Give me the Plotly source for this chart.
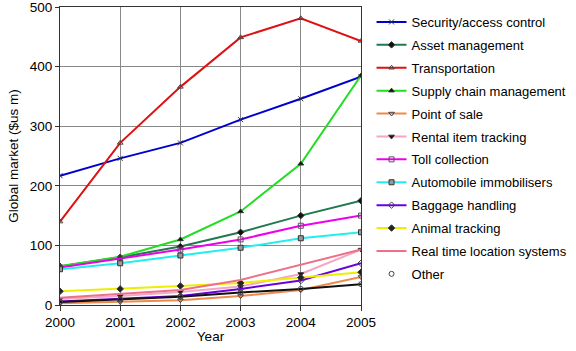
import plotly.graph_objects as go

years = [2000, 2001, 2002, 2003, 2004, 2005]

series_names = [
    "Security/access control", "Asset management", "Transportation",
    "Supply chain management", "Point of sale", "Rental item tracking",
    "Toll collection", "Automobile immobilisers", "Baggage handling",
    "Animal tracking", "Real time location systems", "Other",
]

security = [217, 246, 272, 311, 346, 383]
asset = [65, 80, 98, 122, 150, 175]
transportation = [140, 272, 366, 449, 481, 443]
supply_chain = [65, 81, 110, 157, 237, 385]
point_of_sale = [3, 5, 8, 15, 25, 47]
rental = [10, 15, 22, 31, 52, 93]
toll = [63, 78, 93, 110, 133, 150]
immobilisers = [60, 70, 83, 96, 112, 122]
baggage = [6, 10, 15, 27, 41, 70]
animal = [23, 27, 32, 37, 46, 55]
rtls = [12, 18, 25, 42, 67, 93]
other = [5, 9, 14, 21, 27, 35]

values = [security, asset, transportation, supply_chain, point_of_sale, rental,
          toll, immobilisers, baggage, animal, rtls, other]

line_colors = ["#0000cc", "#1f7a4f", "#dd1111", "#22dd22", "#f08a4b", "#f4a6c4",
               "#ee00ee", "#22eeee", "#6a00e0", "#eeee00", "#ee7088", "#111111"]
symbols = ["x-thin-open", "diamond", "triangle-up-open", "triangle-up",
           "triangle-down-open", "triangle-down", "square-open", "square",
           "diamond-open", "diamond", None, "circle-open"]
marker_fill = ["#333333", "#111111", "#444444", "#111111", "#444444", "#111111",
               "#555555", "#999999", "#444444", "#222222", "#444444", "#444444"]

fig = go.Figure()
for i, (name, vals) in enumerate(zip(series_names, values)):
    sym = symbols[i]
    mk = dict(symbol=sym, size=5, color=marker_fill[i], line=dict(color="#333333", width=1))
    if name == "Other":
        fig.add_trace(go.Scatter(x=years, y=vals, mode="lines+markers",
                                 line=dict(color=line_colors[i], width=2),
                                 marker=mk, showlegend=False, legendgroup=f"g{i}"))
        fig.add_trace(go.Scatter(x=[None], y=[None], mode="markers", name=name,
                                 marker=mk, legendgroup=f"g{i}"))
    elif sym is None:
        fig.add_trace(go.Scatter(x=years, y=vals, mode="lines", name=name,
                                 line=dict(color=line_colors[i], width=2),
                                 legendgroup=f"g{i}"))
    else:
        fig.add_trace(go.Scatter(x=years, y=vals, mode="lines+markers", name=name,
                                 line=dict(color=line_colors[i], width=2),
                                 marker=mk, legendgroup=f"g{i}"))

axis_font = dict(family="Liberation Sans, Arial, sans-serif", size=13.5, color="black")

fig.update_layout(
    width=576, height=351,
    margin=dict(l=60, r=215, t=7, b=46, autoexpand=False),
    paper_bgcolor="white", plot_bgcolor="white",
    font=axis_font,
    showlegend=True,
    legend=dict(x=1.035, xanchor="left", y=1.0, yanchor="top",
                font=dict(family="Liberation Sans, Arial, sans-serif", size=13, color="black"),
                tracegroupgap=3.0, bgcolor="rgba(0,0,0,0)",
                itemwidth=30),
    xaxis=dict(range=[2000, 2005], tickmode="array", tickvals=years,
               ticktext=[str(y) for y in years],
               showgrid=True, gridcolor="#888888", gridwidth=1,
               showline=True, linecolor="#333333", linewidth=1, mirror=True,
               ticks="outside", ticklen=5, tickcolor="#333333",
               zeroline=False,
               title=dict(text="Year", font=axis_font, standoff=2)),
    yaxis=dict(range=[0, 500], tickmode="array", tickvals=[0, 100, 200, 300, 400, 500],
               ticklabeloverflow="allow",
               showgrid=True, gridcolor="#888888", gridwidth=1,
               showline=True, linecolor="#333333", linewidth=1, mirror=True,
               ticks="outside", ticklen=4, tickcolor="#333333",
               zeroline=False,
               title=dict(text="Global market ($us m)", font=axis_font, standoff=8)),
)

fig.write_html("out.html")
